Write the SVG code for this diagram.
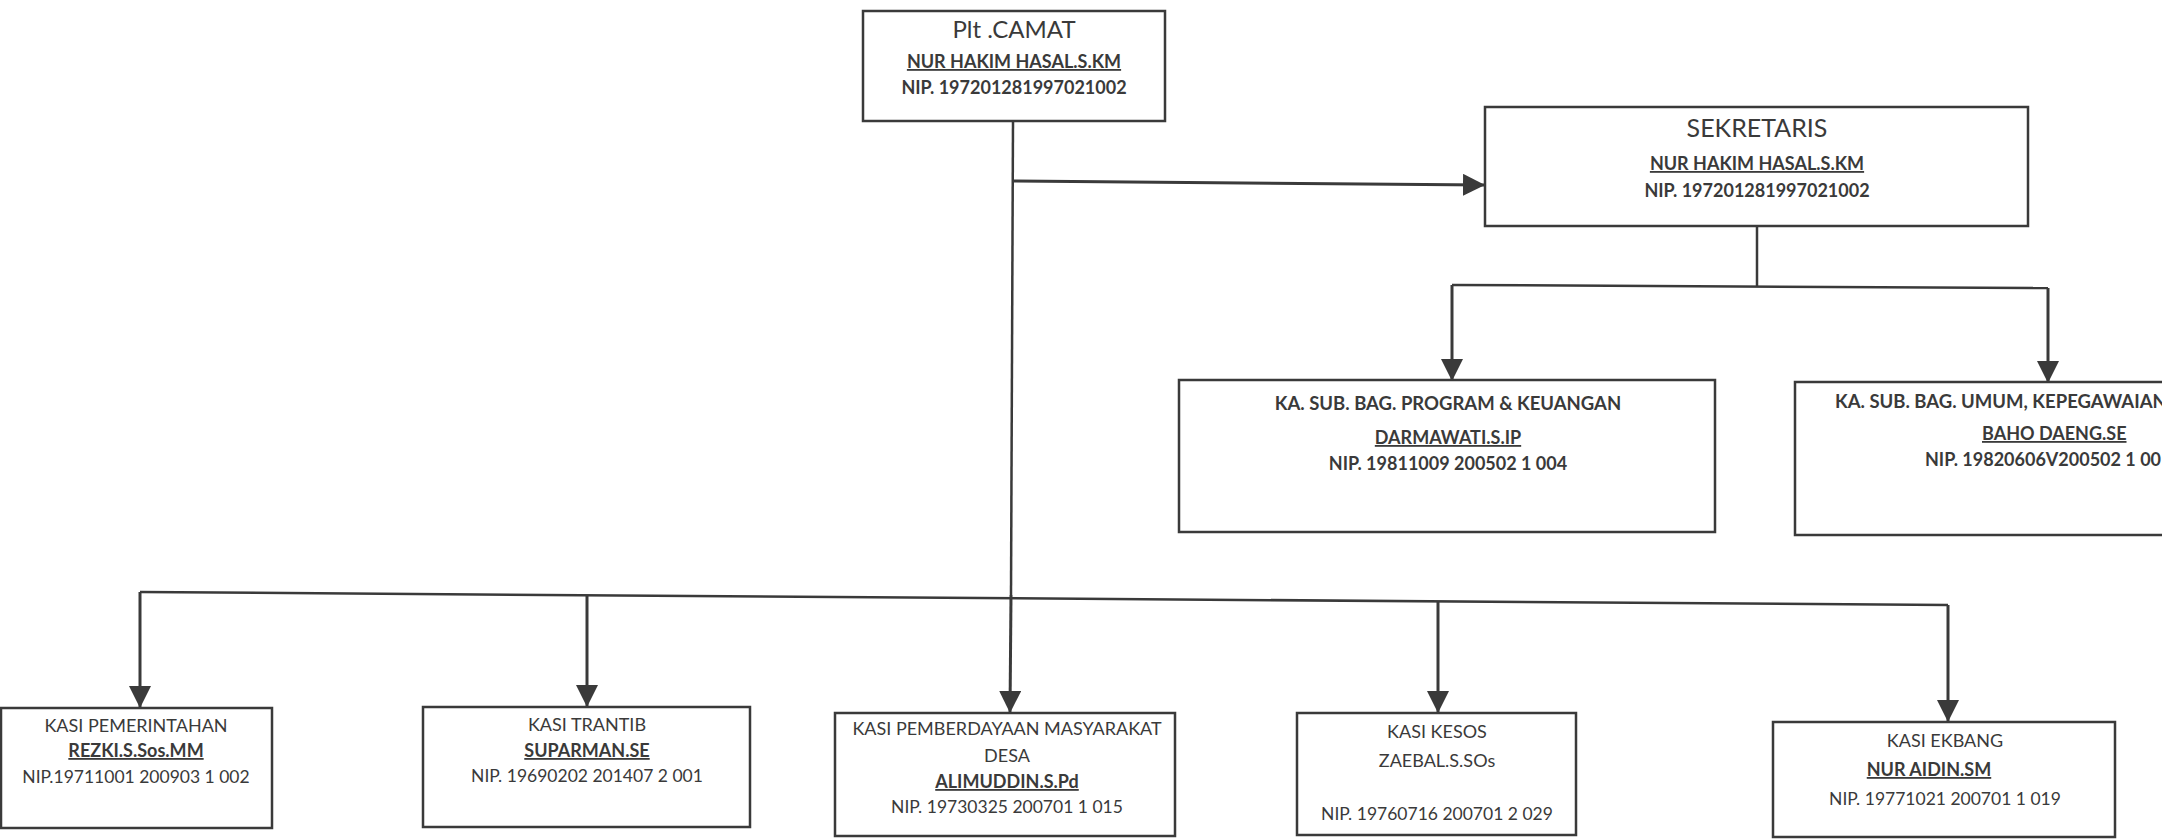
<svg xmlns="http://www.w3.org/2000/svg" width="2175" height="839" viewBox="0 0 2175 839">
<style>
.box{fill:#fff;stroke:#3a3a3a;stroke-width:2.5}
.ln{fill:none;stroke:#3a3a3a;stroke-width:2.5}
.ar{fill:none;stroke:#3a3a3a;stroke-width:3}
text{font-family:Lato,"Liberation Sans",sans-serif;fill:#3a3a3a}
.c{text-anchor:middle}
.t1{font-size:24px}
.b{font-weight:bold;font-size:18px}
.sb{font-weight:bold;font-size:18.5px}
.u{text-decoration:underline}
.n{font-size:18px}
.nip{font-size:17.5px}
</style>
<defs>
<marker id="ah" markerUnits="userSpaceOnUse" markerWidth="22" markerHeight="22" viewBox="0 0 20 20" refX="20" refY="10" orient="auto">
<path d="M0,0 L20,10 L0,20 Z" fill="#3a3a3a"/>
</marker>
<clipPath id="cr"><rect x="0" y="0" width="2162" height="839"/></clipPath>
</defs>
<rect width="2175" height="839" fill="#fff"/>
<g id="connectors">
<line class="ln" x1="1013" y1="121" x2="1011" y2="595"/>
<line class="ar" x1="1011" y1="595" x2="1010" y2="713" marker-end="url(#ah)"/>
<line class="ar" x1="1013" y1="181" x2="1485" y2="185" marker-end="url(#ah)"/>
<line class="ln" x1="1757" y1="226" x2="1757" y2="287"/>
<line class="ln" x1="1452" y1="285" x2="2048" y2="288"/>
<line class="ar" x1="1452" y1="285" x2="1452" y2="381" marker-end="url(#ah)"/>
<line class="ar" x1="2048" y1="288" x2="2048" y2="383" marker-end="url(#ah)"/>
<line class="ln" x1="140" y1="592" x2="1948" y2="605"/>
<line class="ar" x1="140" y1="592" x2="140" y2="708" marker-end="url(#ah)"/>
<line class="ar" x1="587" y1="595" x2="587" y2="707" marker-end="url(#ah)"/>
<line class="ar" x1="1438" y1="602" x2="1438" y2="713" marker-end="url(#ah)"/>
<line class="ar" x1="1948" y1="605" x2="1948" y2="722" marker-end="url(#ah)"/>
</g>
<g id="camat">
<rect class="box" x="863" y="11" width="302" height="110"/>
<text class="c t1" x="1014" y="38">Plt .CAMAT</text>
<text class="c b u" x="1014" y="68">NUR HAKIM HASAL.S.KM</text>
<text class="c b" x="1014" y="94">NIP. 197201281997021002</text>
</g>
<g id="sekretaris">
<rect class="box" x="1485" y="107" width="543" height="119"/>
<text class="c" x="1757" y="137" font-size="25px">SEKRETARIS</text>
<text class="c b u" x="1757" y="170">NUR HAKIM HASAL.S.KM</text>
<text class="c b" x="1757" y="197">NIP. 197201281997021002</text>
</g>
<g id="subbag-program">
<rect class="box" x="1179" y="380" width="536" height="152"/>
<text class="c sb" x="1448" y="410">KA. SUB. BAG. PROGRAM &amp; KEUANGAN</text>
<text class="c b u" x="1448" y="444">DARMAWATI.S.IP</text>
<text class="c b" x="1448" y="470">NIP. 19811009 200502 1 004</text>
</g>
<g id="subbag-umum" clip-path="url(#cr)">
<rect class="box" x="1795" y="382" width="420" height="153"/>
<text class="sb" x="1835" y="408">KA. SUB. BAG. UMUM, KEPEGAWAIAN</text>
<text class="b u" x="1982" y="440">BAHO DAENG.SE</text>
<text class="b" x="1925" y="466">NIP. 19820606V200502 1 00</text>
</g>
<g id="kasi-pemerintahan">
<rect class="box" x="1" y="708" width="271" height="120"/>
<text class="c n" x="136" y="732">KASI PEMERINTAHAN</text>
<text class="c b u" x="136" y="757">REZKI.S.Sos.MM</text>
<text class="c nip" x="136" y="783">NIP.19711001 200903 1 002</text>
</g>
<g id="kasi-trantib">
<rect class="box" x="423" y="707" width="327" height="120"/>
<text class="c n" x="587" y="731">KASI TRANTIB</text>
<text class="c b u" x="587" y="757">SUPARMAN.SE</text>
<text class="c nip" x="587" y="782">NIP. 19690202 201407 2 001</text>
</g>
<g id="kasi-pmd">
<rect class="box" x="835" y="713" width="340" height="123"/>
<text class="c n" x="1007" y="735">KASI PEMBERDAYAAN MASYARAKAT</text>
<text class="c n" x="1007" y="762">DESA</text>
<text class="c b u" x="1007" y="788">ALIMUDDIN.S.Pd</text>
<text class="c nip" x="1007" y="813">NIP. 19730325 200701 1 015</text>
</g>
<g id="kasi-kesos">
<rect class="box" x="1297" y="713" width="279" height="122"/>
<text class="c n" x="1437" y="738">KASI KESOS</text>
<text class="c n" x="1437" y="767">ZAEBAL.S.SOs</text>
<text class="c nip" x="1437" y="820">NIP. 19760716 200701 2 029</text>
</g>
<g id="kasi-ekbang">
<rect class="box" x="1773" y="722" width="342" height="115"/>
<text class="c n" x="1945" y="747">KASI EKBANG</text>
<text class="c b u" x="1929" y="776">NUR AIDIN.SM</text>
<text class="c nip" x="1945" y="805">NIP. 19771021 200701 1 019</text>
</g>
</svg>
